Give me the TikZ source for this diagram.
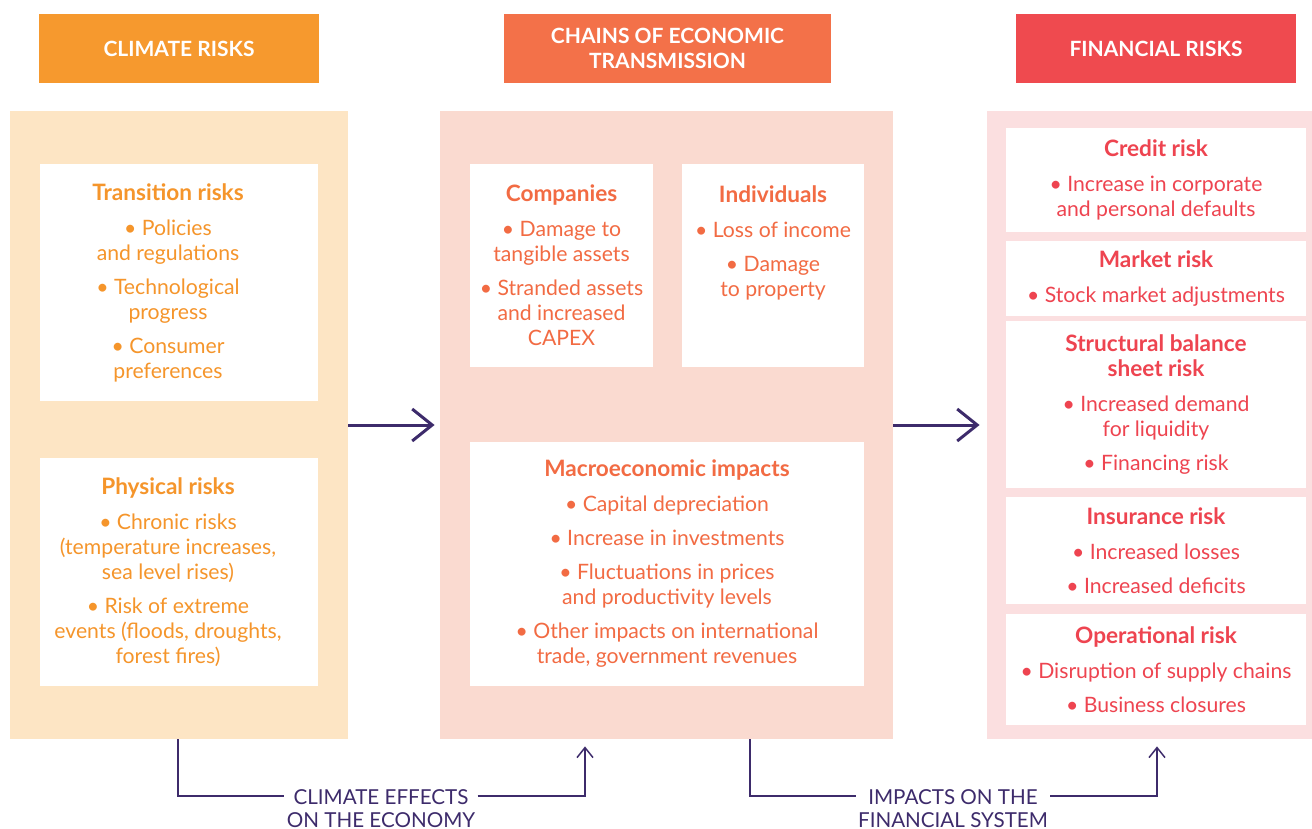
\documentclass[tikz,border=0pt]{standalone}
\usepackage{fontspec}
\setmainfont{Lato}
\usetikzlibrary{arrows.meta,positioning}
\definecolor{climatehead}{HTML}{F6992E}
\definecolor{climatefill}{HTML}{FDE5C4}
\definecolor{climatetext}{HTML}{F5952B}
\definecolor{chainhead}{HTML}{F37149}
\definecolor{chainfill}{HTML}{FADAD0}
\definecolor{chaintext}{HTML}{F26B43}
\definecolor{finhead}{HTML}{EF4A4F}
\definecolor{finfill}{HTML}{FBDFE0}
\definecolor{fintext}{HTML}{EE4450}
\definecolor{linkpurple}{HTML}{3D2B6B}
\newcommand{\boxtitle}[1]{{\bfseries\fontsize{11.3}{12.5}\selectfont #1}\\[5pt]}
\newcommand{\nextitem}{\\[4.5pt]}
\tikzset{
  head/.style={inner sep=0pt, minimum height=34.5pt, text=white, align=center,
    font=\bfseries\fontsize{10.5}{12.5}\selectfont},
  panel/.style={inner sep=0pt, minimum height=314pt},
  whitebox/.style={fill=white, inner sep=0pt, align=center,
    font=\fontsize{10.6}{12.5}\selectfont},
  flow/.style={draw=linkpurple, line width=1.5pt, -{Straight Barb[length=10pt,width=16pt]}},
  thinlink/.style={draw=linkpurple, line width=0.75pt},
  bottomlabel/.style={anchor=north, inner sep=1pt, align=center, text=linkpurple,
    font=\fontsize{10.3}{11.5}\selectfont}
}
\begin{document}
\begin{tikzpicture}[x=0.5pt,y=-0.5pt]
\useasboundingbox (0,0) rectangle (1312,829);
% column headers
\foreach \cx/\w/\col/\name/\txt in {179/140pt/climatehead/hclimate/{CLIMATE RISKS},
    667.5/163.5pt/chainhead/hchain/{CHAINS OF ECONOMIC\\TRANSMISSION},
    1156/140pt/finhead/hfin/{FINANCIAL RISKS}}
  \node[head, fill=\col, minimum width=\w] (\name) at (\cx,48.5) {\txt};
% panels
\node[panel, fill=climatefill, minimum width=169pt] (climate) at (179,425) {};
\node[panel, fill=chainfill, minimum width=226.5pt] (chain) at (666.5,425) {};
\node[panel, fill=finfill, minimum width=162.5pt] (finance) at (1149.5,425) {};
% climate risks
\node[whitebox, minimum width=139pt, minimum height=118.5pt] (transition) at (179,282.5) {};
\node[whitebox, text=climatetext, xshift=-5.5pt] (transtext) at (transition.center)
  {\boxtitle{Transition risks}\textbullet\ Policies\\and regulations\nextitem
   \textbullet\ Technological\\progress\nextitem \textbullet\ Consumer\\preferences};
\node[whitebox, minimum width=139pt, minimum height=114pt] (physical) at (179,572) {};
\node[whitebox, text=climatetext, xshift=-5.5pt] (phystext) at (physical.center)
  {\boxtitle{Physical risks}\textbullet\ Chronic risks\\(temperature increases,\\sea level rises)\nextitem
   \textbullet\ Risk of extreme\\events (floods, droughts,\\forest fires)};
% chains of transmission
\node[whitebox, text=chaintext, minimum width=91.5pt, minimum height=101.5pt] (companies) at (561.5,265.5)
  {\boxtitle{Companies}\textbullet\ Damage to\\tangible assets\nextitem
   \textbullet\ Stranded assets\\and increased\\CAPEX};
\node[whitebox, minimum width=91pt, minimum height=101.5pt] (individuals) at (773,265.5) {};
\node[whitebox, text=chaintext, anchor=north, yshift=-11pt] (indivtext) at (individuals.north)
  {\boxtitle{Individuals}\textbullet\ Loss of income\nextitem \textbullet\ Damage\\to property};
\node[whitebox, text=chaintext, minimum width=197pt, minimum height=122pt] (macro) at (667,564)
  {\boxtitle{Macroeconomic impacts}\textbullet\ Capital depreciation\nextitem
   \textbullet\ Increase in investments\nextitem
   \textbullet\ Fluctuations in prices\\and productivity levels\nextitem
   \textbullet\ Other impacts on international\\trade, government revenues};
% financial risks
\node[whitebox, text=fintext, minimum width=150pt, minimum height=52pt] (credit) at (1156,180)
  {\boxtitle{Credit risk}\textbullet\ Increase in corporate\\and personal defaults};
\node[whitebox, text=fintext, minimum width=150pt, minimum height=37.5pt] (market) at (1156,278.5)
  {\boxtitle{Market risk}\textbullet\ Stock market adjustments};
\node[whitebox, text=fintext, minimum width=150pt, minimum height=83.5pt] (structural) at (1156,404.5)
  {{\bfseries\fontsize{11.3}{12.5}\selectfont Structural balance}\\\boxtitle{sheet risk}\textbullet\ Increased demand\\for liquidity\nextitem
   \textbullet\ Financing risk};
\node[whitebox, text=fintext, minimum width=150pt, minimum height=53.5pt] (insurance) at (1156,550.5)
  {\boxtitle{Insurance risk}\textbullet\ Increased losses\nextitem \textbullet\ Increased deficits};
\node[whitebox, text=fintext, minimum width=150pt, minimum height=55.5pt] (operational) at (1156,669.5)
  {\boxtitle{Operational risk}\textbullet\ Disruption of supply chains\nextitem
   \textbullet\ Business closures};
% main arrows
\draw[flow, shorten >=2.5pt] (climate.east) -- (chain.west);
\draw[flow, shorten >=3.5pt] (chain.east) -- (finance.west);
% bottom links
\node[bottomlabel] (effects) at (381,787) {CLIMATE EFFECTS\\ON THE ECONOMY};
\node[bottomlabel] (impacts) at (953,787) {IMPACTS ON THE\\FINANCIAL SYSTEM};
\coordinate (k1) at (178,796);
\coordinate (k2) at (585,796);
\coordinate (k3) at (750,796);
\coordinate (k4) at (1157,796);
\draw[thinlink] (climate.south -| k1) |- (effects.west |- k1);
\draw[thinlink, -{Straight Barb[length=5pt,width=8pt]}, shorten >=3.5pt] (effects.east |- k2) -| (chain.south -| k2);
\draw[thinlink] (chain.south -| k3) |- (impacts.west |- k3);
\draw[thinlink, -{Straight Barb[length=5pt,width=8pt]}, shorten >=3.5pt] (impacts.east |- k4) -| (finance.south -| k4);
\end{tikzpicture}
\end{document}
